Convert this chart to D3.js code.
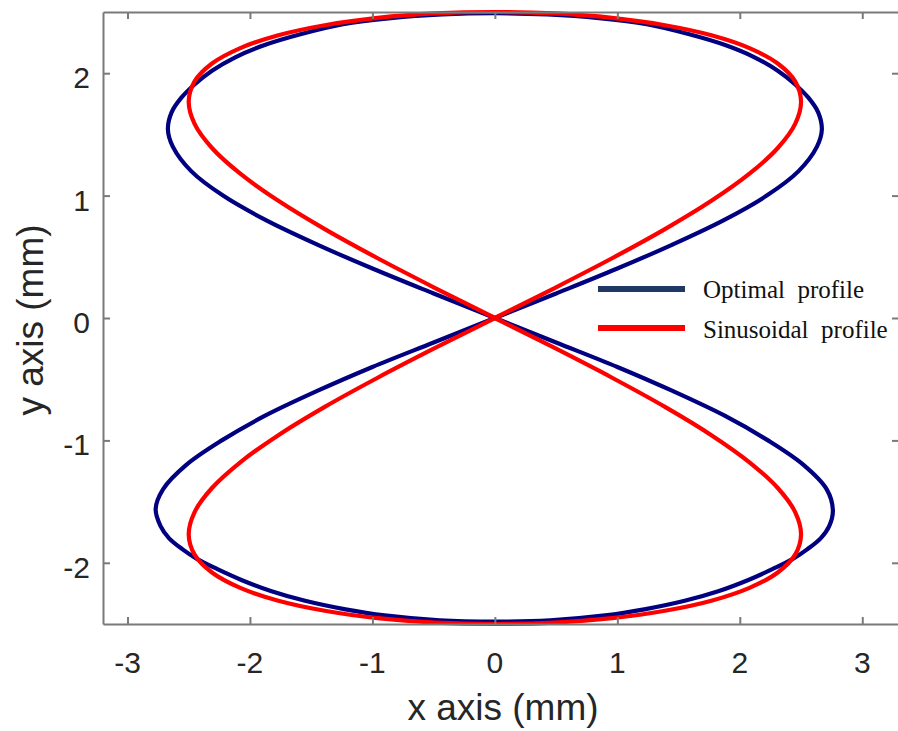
<!DOCTYPE html>
<html>
<head>
<meta charset="utf-8">
<script src="https://cdn.jsdelivr.net/npm/d3@7"></script>
<style>
	body { margin: 0; background: #fff; }
	svg { display: block; }
	.tick-label { font-family: "Liberation Sans", Arial, sans-serif; font-size: 30px; fill: #262626; }
	.axis-title { font-family: "Liberation Sans", Arial, sans-serif; font-size: 37px; fill: #262626; }
	.legend-text { font-family: "Liberation Serif", "Times New Roman", serif; font-size: 25px; fill: #111; white-space: pre; }
</style>
</head>
<body>
<div id="chart"></div>
<script>
// tick values
var xTicks = [-3, -2, -1, 0, 1, 2, 3];
var yTicks = [-2, -1, 0, 1, 2];

// series names
var seriesNames = ["Optimal  profile", "Sinusoidal  profile"];

// optimal profile (closed loop, crosses itself at 0,0)
var optimalPts = [
	[0, 0], [0.50, 0.20], [0.99, 0.40], [1.45, 0.60], [1.87, 0.80], [2.22, 1.00], [2.48, 1.20], [2.63, 1.40], [2.67, 1.54],
	[2.64, 1.68], [2.56, 1.80], [2.45, 1.91], [2.31, 2.02], [2.12, 2.13], [1.88, 2.23], [1.58, 2.32], [1.24, 2.40], [0.85, 2.45], [0.43, 2.48],
	[0, 2.49],
	[-0.43, 2.48], [-0.85, 2.45], [-1.24, 2.40], [-1.58, 2.32], [-1.88, 2.23], [-2.12, 2.13], [-2.31, 2.02], [-2.45, 1.91], [-2.56, 1.80], [-2.64, 1.68],
	[-2.67, 1.54], [-2.63, 1.40], [-2.48, 1.20], [-2.22, 1.00], [-1.87, 0.80], [-1.45, 0.60], [-0.99, 0.40], [-0.50, 0.20],
	[0, 0],
	[0.50, -0.20], [1.00, -0.40], [1.46, -0.60], [1.88, -0.80], [2.23, -1.00], [2.52, -1.20], [2.71, -1.40], [2.76, -1.57],
	[2.73, -1.70], [2.66, -1.80], [2.55, -1.89], [2.43, -1.97], [2.27, -2.05], [2.07, -2.14], [1.83, -2.23], [1.55, -2.31], [1.22, -2.38], [0.90, -2.43], [0.45, -2.47],
	[0, -2.48],
	[-0.45, -2.47], [-0.90, -2.43], [-1.22, -2.38], [-1.55, -2.31], [-1.83, -2.23], [-2.07, -2.14], [-2.27, -2.05], [-2.43, -1.97], [-2.55, -1.89], [-2.66, -1.80], [-2.73, -1.70],
	[-2.77, -1.56], [-2.71, -1.40], [-2.52, -1.20], [-2.23, -1.00], [-1.88, -0.80], [-1.46, -0.60], [-1.00, -0.40], [-0.50, -0.20]
];

// sinusoidal profile
var sinusoidalPts = [
	[0, 0], [0.488, 0.245], [0.957, 0.488], [1.389, 0.726], [1.768, 0.957], [2.079, 1.179], [2.310, 1.389], [2.452, 1.586],
	[2.5, 1.768], [2.452, 1.933], [2.310, 2.079], [2.079, 2.205], [1.768, 2.310], [1.389, 2.392], [0.957, 2.452], [0.488, 2.488],
	[0, 2.5], [-0.488, 2.488], [-0.957, 2.452], [-1.389, 2.392], [-1.768, 2.310], [-2.079, 2.205], [-2.310, 2.079], [-2.452, 1.933],
	[-2.5, 1.768], [-2.452, 1.586], [-2.310, 1.389], [-2.079, 1.179], [-1.768, 0.957], [-1.389, 0.726], [-0.957, 0.488], [-0.488, 0.245],
	[0, 0], [0.488, -0.245], [0.957, -0.488], [1.389, -0.726], [1.768, -0.957], [2.079, -1.179], [2.310, -1.389], [2.452, -1.586],
	[2.5, -1.768], [2.452, -1.933], [2.310, -2.079], [2.079, -2.205], [1.768, -2.310], [1.389, -2.392], [0.957, -2.452], [0.488, -2.488],
	[0, -2.5], [-0.488, -2.488], [-0.957, -2.452], [-1.389, -2.392], [-1.768, -2.310], [-2.079, -2.205], [-2.310, -2.079], [-2.452, -1.933],
	[-2.5, -1.768], [-2.452, -1.586], [-2.310, -1.389], [-2.079, -1.179], [-1.768, -0.957], [-1.389, -0.726], [-0.957, -0.488], [-0.488, -0.245]
];

var width = 898, height = 731;
var plotLeft = 103, plotTop = 12, plotRight = 899, plotBottom = 624;

var svg = d3.select("#chart").append("svg")
	.attr("width", width)
	.attr("height", height);

var x = d3.scaleLinear().domain([-3.2, 3.3]).range([plotLeft, plotRight]);
var y = d3.scaleLinear().domain([-2.5, 2.5]).range([plotBottom, plotTop]);

svg.append("defs").append("clipPath").attr("id", "plotClip")
	.append("rect")
	.attr("x", plotLeft).attr("y", plotTop - 3)
	.attr("width", plotRight - plotLeft).attr("height", plotBottom - plotTop + 6);

// curves
var line = d3.line()
	.x(function(d){ return x(d[0]); })
	.y(function(d){ return y(d[1]); })
	.curve(d3.curveCatmullRomClosed.alpha(0.5));

var plot = svg.append("g").attr("clip-path", "url(#plotClip)");
plot.append("path")
	.datum(optimalPts)
	.attr("d", line)
	.attr("fill", "none")
	.attr("stroke", "#000080")
	.attr("stroke-width", 4.2)
	.attr("stroke-linejoin", "round");
plot.append("path")
	.datum(sinusoidalPts)
	.attr("d", line)
	.attr("fill", "none")
	.attr("stroke", "#ff0000")
	.attr("stroke-width", 4.2)
	.attr("stroke-linejoin", "round");

// axes box, matlab style inner ticks on all sides
var axisColor = "#7a7a7a";
var xBottom = svg.append("g").attr("transform", "translate(0," + plotBottom + ")")
	.call(d3.axisBottom(x).tickValues(xTicks).tickSizeInner(-7).tickSizeOuter(0).tickFormat(""));
var xTop = svg.append("g").attr("transform", "translate(0," + plotTop + ")")
	.call(d3.axisTop(x).tickValues(xTicks).tickSizeInner(-7).tickSizeOuter(0).tickFormat(""));
var yLeft = svg.append("g").attr("transform", "translate(" + plotLeft + ",0)")
	.call(d3.axisLeft(y).tickValues(yTicks).tickSizeInner(-7).tickSizeOuter(0).tickFormat(""));
var yRight = svg.append("g").attr("transform", "translate(" + plotRight + ",0)")
	.call(d3.axisRight(y).tickValues(yTicks).tickSizeInner(-7).tickSizeOuter(0).tickFormat(""));
[xBottom, xTop, yLeft, yRight].forEach(function(g){
	g.selectAll("path, line").attr("stroke", axisColor).attr("stroke-width", 2);
});

// tick labels
svg.selectAll(".x-label")
	.data(xTicks).enter()
	.append("text")
	.attr("class", "tick-label x-label")
	.attr("x", function(d){ return x(d); })
	.attr("y", 673)
	.attr("text-anchor", "middle")
	.text(function(d){ return d; });
svg.selectAll(".y-label")
	.data(yTicks).enter()
	.append("text")
	.attr("class", "tick-label y-label")
	.attr("x", 90)
	.attr("y", function(d){ return y(d) + 15; })
	.attr("text-anchor", "end")
	.text(function(d){ return d; });

// axis titles
svg.append("text")
	.attr("class", "axis-title")
	.attr("x", 503)
	.attr("y", 720)
	.attr("text-anchor", "middle")
	.text("x axis (mm)");
svg.append("text")
	.attr("class", "axis-title")
	.attr("transform", "translate(43,320) rotate(-90)")
	.attr("text-anchor", "middle")
	.text("y axis (mm)");

// legend
var legendColors = ["#1f3864", "#ff0000"];
var legend = svg.append("g");
legend.selectAll("line")
	.data(seriesNames).enter()
	.append("line")
	.attr("x1", 598).attr("x2", 685)
	.attr("y1", function(d, i){ return 289 + i * 39; })
	.attr("y2", function(d, i){ return 289 + i * 39; })
	.attr("stroke", function(d, i){ return legendColors[i]; })
	.attr("stroke-width", 6);
legend.selectAll("text")
	.data(seriesNames).enter()
	.append("text")
	.attr("class", "legend-text")
	.attr("x", 703)
	.attr("y", function(d, i){ return 298 + i * 40; })
	.text(function(d){ return d; });
</script>
</body>
</html>
